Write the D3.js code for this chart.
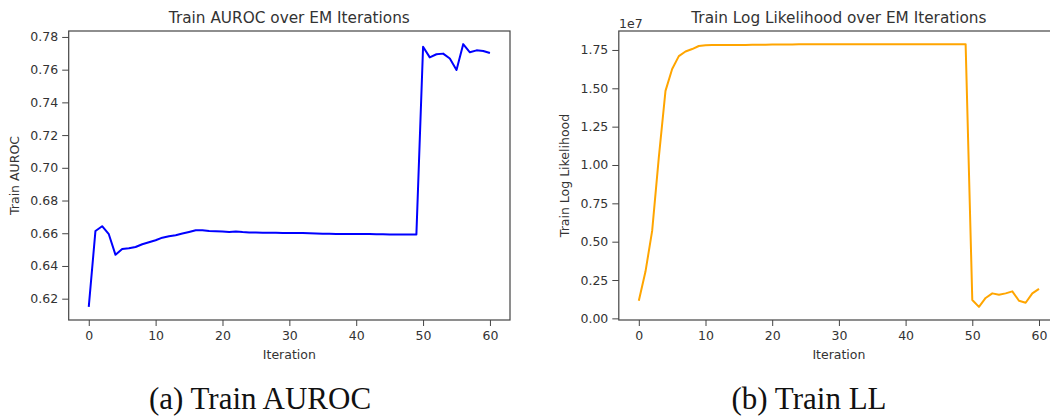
<!DOCTYPE html>
<html>
<head>
<meta charset="utf-8">
<script src="https://cdn.jsdelivr.net/npm/d3@7"></script>
<style>
  body { margin: 0; background: #fff; }
  text { font-family: "DejaVu Sans", sans-serif; fill: #333; }
  .caption { font-family: "Liberation Serif", "DejaVu Serif", serif; fill: #111; }
</style>
</head>
<body>
<div id="chart"></div>
<script>
// iterations 0..60
const iterations = d3.range(0, 61);

// Train AUROC per EM iteration
const aurocValues = [
  0.615, 0.6614, 0.6643, 0.6594, 0.6468, 0.6504, 0.6508, 0.6516, 0.6533, 0.6545,
  0.6557, 0.6573, 0.6582, 0.6588, 0.6598, 0.6608, 0.6618, 0.6619, 0.6614, 0.6612,
  0.6610, 0.6608, 0.6611, 0.6607, 0.6605, 0.6604, 0.6603, 0.6603, 0.6603, 0.6602,
  0.6602, 0.6602, 0.6601, 0.6600, 0.6599, 0.6597, 0.6597, 0.6596, 0.6596, 0.6596,
  0.6595, 0.6595, 0.6595, 0.6594, 0.6594, 0.6593, 0.6593, 0.6593, 0.6593, 0.6593,
  0.774, 0.7675, 0.7694, 0.7698, 0.7668, 0.7598, 0.7756, 0.7706, 0.7718, 0.7714,
  0.7702
];

// Train log likelihood per EM iteration, in units of 1e7
const llValues = [
  0.115, 0.305, 0.57, 1.05, 1.483, 1.626, 1.71, 1.74, 1.756, 1.776,
  1.781, 1.782, 1.782, 1.782, 1.783, 1.783, 1.783, 1.784, 1.784, 1.784,
  1.785, 1.785, 1.786, 1.786, 1.787, 1.787, 1.787, 1.787, 1.787, 1.787,
  1.787, 1.787, 1.787, 1.787, 1.788, 1.788, 1.788, 1.788, 1.788, 1.788,
  1.788, 1.788, 1.788, 1.788, 1.788, 1.788, 1.788, 1.788, 1.788, 1.788,
  0.12, 0.075, 0.133, 0.163, 0.154, 0.163, 0.176, 0.115, 0.102, 0.163,
  0.192
];

const xTicks = [0, 10, 20, 30, 40, 50, 60];
const aurocTicks = [0.62, 0.64, 0.66, 0.68, 0.70, 0.72, 0.74, 0.76, 0.78];
const llTicks = [0.00, 0.25, 0.50, 0.75, 1.00, 1.25, 1.50, 1.75];

const width = 1050, height = 416;

const svg = d3.select("#chart")
  .append("svg")
  .attr("width", width)
  .attr("height", height);

// matplotlib-like 5% margins around the data
function padded(ext) {
  const m = (ext[1] - ext[0]) * 0.05;
  return [ext[0] - m, ext[1] + m];
}

function drawPanel(opts) {
  const x = d3.scaleLinear()
    .domain(padded(d3.extent(iterations)))
    .range([opts.left, opts.right]);
  const y = d3.scaleLinear()
    .domain(padded(d3.extent(opts.values)))
    .range([opts.bottom, opts.top]);

  const g = svg.append("g");

  // line first, clipped to the axes
  const clipId = "clip-" + opts.id;
  svg.append("clipPath").attr("id", clipId)
    .append("rect")
    .attr("x", opts.left).attr("y", opts.top)
    .attr("width", opts.right - opts.left)
    .attr("height", opts.bottom - opts.top);

  const line = d3.line()
    .x((d, i) => x(iterations[i]))
    .y(d => y(d));

  g.append("path")
    .datum(opts.values)
    .attr("clip-path", `url(#${clipId})`)
    .attr("fill", "none")
    .attr("stroke", opts.color)
    .attr("stroke-width", 2)
    .attr("stroke-linejoin", "round")
    .attr("d", line);

  // x axis
  const xAxis = g.append("g")
    .attr("transform", `translate(0,${opts.bottom})`)
    .call(d3.axisBottom(x).tickValues(xTicks).tickSize(6).tickPadding(5).tickSizeOuter(0));

  // y axis
  const yAxis = g.append("g")
    .attr("transform", `translate(${opts.left},0)`)
    .call(d3.axisLeft(y).tickValues(opts.ticks).tickFormat(d3.format(".2f"))
      .tickSize(6.5).tickPadding(4).tickSizeOuter(0));

  [xAxis, yAxis].forEach(a => {
    a.select(".domain").remove();
    a.selectAll("line").attr("stroke", "#444").attr("stroke-width", 1);
    a.selectAll("text")
      .style("font-family", "DejaVu Sans, sans-serif")
      .style("font-size", "12.5px")
      .attr("fill", "#333");
  });

  // spines
  g.append("rect")
    .attr("x", opts.left).attr("y", opts.top)
    .attr("width", opts.right - opts.left)
    .attr("height", opts.bottom - opts.top)
    .attr("fill", "none")
    .attr("stroke", "#444")
    .attr("stroke-width", 1.2);

  // title
  g.append("text")
    .attr("x", (opts.left + opts.right) / 2)
    .attr("y", 23)
    .attr("text-anchor", "middle")
    .style("font-size", "15.3px")
    .text(opts.title);

  // axis labels
  g.append("text")
    .attr("x", (opts.left + opts.right) / 2)
    .attr("y", 359)
    .attr("text-anchor", "middle")
    .style("font-size", "12.5px")
    .text("Iteration");

  g.append("text")
    .attr("transform", `translate(${opts.yLabelX},${(opts.top + opts.bottom) / 2}) rotate(-90)`)
    .attr("text-anchor", "middle")
    .attr("dy", "0.35em")
    .style("font-size", "12.5px")
    .text(opts.yLabel);

  // caption
  svg.append("text")
    .attr("class", "caption")
    .attr("x", opts.captionX)
    .attr("y", 409)
    .attr("text-anchor", "middle")
    .style("font-size", "31px")
    .text(opts.caption);

  return g;
}

drawPanel({
  id: "auroc",
  values: aurocValues,
  ticks: aurocTicks,
  left: 68.7, right: 510, top: 31, bottom: 320,
  color: "#0000ff",
  title: "Train AUROC over EM Iterations",
  yLabel: "Train AUROC",
  yLabelX: 15,
  caption: "(a) Train AUROC",
  captionX: 260
});

const ll = drawPanel({
  id: "ll",
  values: llValues,
  ticks: llTicks,
  left: 618.8, right: 1059, top: 31, bottom: 320,
  color: "#ffa500",
  title: "Train Log Likelihood over EM Iterations",
  yLabel: "Train Log Likelihood",
  yLabelX: 565,
  caption: "(b) Train LL",
  captionX: 809
});

// offset text for the y axis multiplier
ll.append("text")
  .attr("x", 619)
  .attr("y", 27.5)
  .style("font-size", "12.5px")
  .text("1e7");
</script>
</body>
</html>
